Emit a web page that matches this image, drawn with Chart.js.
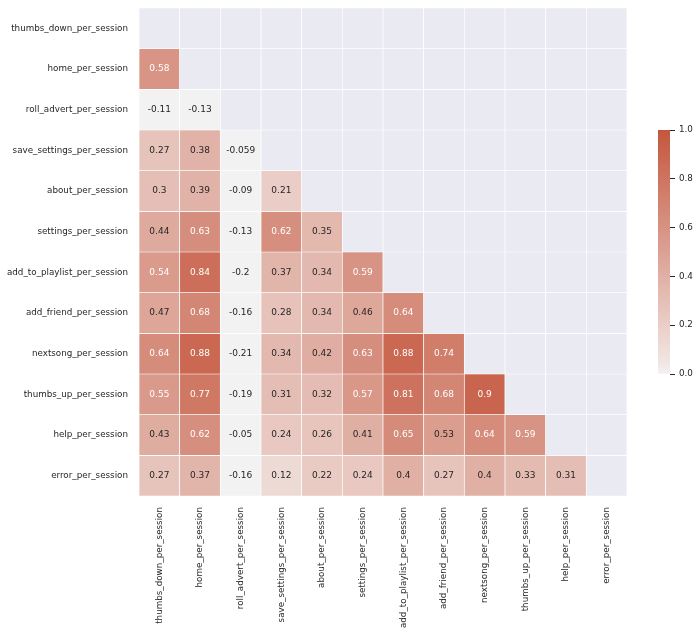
<!DOCTYPE html>
<html>
<head>
<meta charset="utf-8">
<script src="https://cdn.jsdelivr.net/npm/chart.js@4.4.1/dist/chart.umd.min.js"></script>
<style>
  body { margin: 0; background: #fff; }
  #wrap { position: relative; width: 700px; height: 634px; }
  #heat { position: absolute; left: 0; top: 0; }
  #cbar { position: absolute; left: 650px; top: 120px; }
</style>
</head>
<body>
<div id="wrap">
  <canvas id="heat" width="700" height="634"></canvas>
  <canvas id="cbar" width="50" height="264"></canvas>
</div>
<script>
const labels = [
    "thumbs_down_per_session", "home_per_session", "roll_advert_per_session",
    "save_settings_per_session", "about_per_session", "settings_per_session",
    "add_to_playlist_per_session", "add_friend_per_session", "nextsong_per_session",
    "thumbs_up_per_session", "help_per_session", "error_per_session"
];

// lower triangle of the correlation matrix, one array per row
const thumbsDownRow = [];
const homeRow = [0.58];
const rollAdvertRow = [-0.11, -0.13];
const saveSettingsRow = [0.27, 0.38, -0.059];
const aboutRow = [0.3, 0.39, -0.09, 0.21];
const settingsRow = [0.44, 0.63, -0.13, 0.62, 0.35];
const addToPlaylistRow = [0.54, 0.84, -0.2, 0.37, 0.34, 0.59];
const addFriendRow = [0.47, 0.68, -0.16, 0.28, 0.34, 0.46, 0.64];
const nextsongRow = [0.64, 0.88, -0.21, 0.34, 0.42, 0.63, 0.88, 0.74];
const thumbsUpRow = [0.55, 0.77, -0.19, 0.31, 0.32, 0.57, 0.81, 0.68, 0.9];
const helpRow = [0.43, 0.62, -0.05, 0.24, 0.26, 0.41, 0.65, 0.53, 0.64, 0.59];
const errorRow = [0.27, 0.37, -0.16, 0.12, 0.22, 0.24, 0.4, 0.27, 0.4, 0.33, 0.31];

const rows = [thumbsDownRow, homeRow, rollAdvertRow, saveSettingsRow, aboutRow, settingsRow,
    addToPlaylistRow, addFriendRow, nextsongRow, thumbsUpRow, helpRow, errorRow];

const colorbarTicks = [0, 0.2, 0.4, 0.6, 0.8, 1.0];

const MASK = "#eaeaf2";
const LOW = [243, 236, 234];
const HIGH = [196, 86, 61];
const FONT = "'DejaVu Sans', sans-serif";

function cellColor(v) {
    if (v <= 0) return "rgb(242,242,242)";
    const t = Math.min(v, 1);
    const c = LOW.map((l, k) => Math.round(l + (HIGH[k] - l) * t));
    return `rgb(${c[0]},${c[1]},${c[2]})`;
}

function fmt(v) {
    return String(Number(v.toPrecision(2)));
}

const datasets = rows.map((row, i) => ({
    label: labels[i],
    data: labels.map(() => [i, i + 1]),
    backgroundColor: labels.map((_, j) => j < i ? cellColor(row[j]) : MASK),
    borderColor: "#ffffff",
    borderWidth: 0.7,
    borderSkipped: false,
    grouped: false,
    barPercentage: 1,
    categoryPercentage: 1
}));

/* Annotations inside the cells */
const annotate = {
    id: "annotate",
    afterDatasetsDraw(chart) {
        const ctx = chart.ctx;
        ctx.save();
        ctx.font = `9px ${FONT}`;
        ctx.textAlign = "center";
        ctx.textBaseline = "middle";
        chart.data.datasets.forEach((ds, i) => {
            const meta = chart.getDatasetMeta(i);
            meta.data.forEach((bar, j) => {
                if (j >= i) return;
                const v = rows[i][j];
                const p = bar.getCenterPoint();
                ctx.fillStyle = v >= 0.535 ? "#ffffff" : "#262626";
                ctx.fillText(fmt(v), p.x, p.y);
            });
        });
        ctx.restore();
    }
};

new Chart(document.getElementById("heat"), {
    type: "bar",
    data: { labels: labels, datasets: datasets },
    options: {
        responsive: false,
        animation: false,
        devicePixelRatio: 1,
        layout: { padding: { top: 8, right: 73, left: 0, bottom: 0 } },
        plugins: { legend: { display: false }, tooltip: { enabled: false } },
        scales: {
            x: {
                type: "category",
                grid: { display: false, drawTicks: false },
                border: { display: false },
                ticks: {
                    autoSkip: false, minRotation: 90, maxRotation: 90, padding: 11,
                    color: "#262626", font: { family: FONT, size: 8.75 }
                },
                afterFit: (scale) => {
                    scale.height = 138;
                    scale.paddingLeft = 0;
                    scale.paddingRight = 0;
                }
            },
            y: {
                type: "linear",
                min: 0,
                max: labels.length,
                reverse: true,
                grid: { display: false, drawTicks: false },
                border: { display: false },
                afterBuildTicks: (scale) => {
                    scale.ticks = labels.map((_, i) => ({ value: i + 0.5 }));
                },
                ticks: {
                    padding: 11,
                    color: "#262626",
                    font: { family: FONT, size: 8.75 },
                    callback: (value) => labels[Math.floor(value)]
                },
                afterFit: (scale) => {
                    scale.width = 139;
                    scale.paddingTop = 0;
                    scale.paddingBottom = 0;
                }
            }
        }
    },
    plugins: [annotate]
});

/* Colorbar */
new Chart(document.getElementById("cbar"), {
    type: "bar",
    data: {
        labels: ["corr"],
        datasets: [{
            data: [[0, 1]],
            borderWidth: 0,
            barPercentage: 1,
            categoryPercentage: 1,
            backgroundColor: (c) => {
                const area = c.chart.chartArea;
                if (!area) return cellColor(0.5);
                const g = c.chart.ctx.createLinearGradient(0, area.bottom, 0, area.top);
                g.addColorStop(0, cellColor(0));
                for (let k = 1; k <= 20; k++) g.addColorStop(k / 20, cellColor(k / 20));
                return g;
            }
        }]
    },
    options: {
        responsive: false,
        animation: false,
        devicePixelRatio: 1,
        layout: { padding: { top: 10, bottom: 10, left: 8, right: 0 } },
        plugins: { legend: { display: false }, tooltip: { enabled: false } },
        scales: {
            x: { display: false },
            y: {
                position: "right",
                min: 0,
                max: 1,
                border: { display: false },
                grid: { drawOnChartArea: false, tickLength: 5, color: "#262626", lineWidth: 1 },
                afterBuildTicks: (scale) => {
                    scale.ticks = colorbarTicks.map((v) => ({ value: v }));
                },
                ticks: {
                    padding: 4,
                    color: "#262626",
                    font: { family: FONT, size: 8.75 },
                    callback: (value) => value.toFixed(1)
                },
                afterFit: (scale) => { scale.width = 30; }
            }
        }
    }
});
</script>
</body>
</html>
